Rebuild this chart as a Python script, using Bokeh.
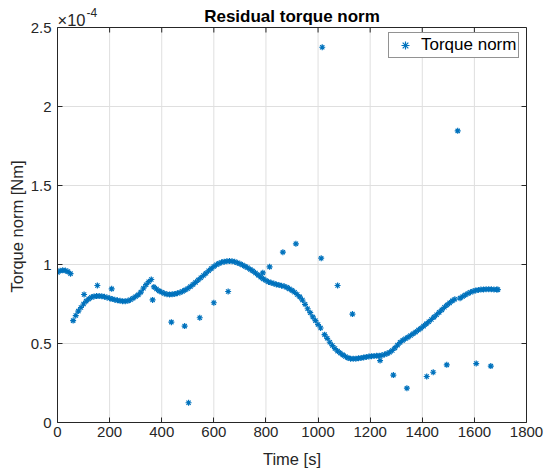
import math
from bokeh.plotting import figure
from bokeh.models import (Range1d, FixedTicker, CustomJSTickFormatter, Label, Legend, LegendItem,
                          ColumnDataSource, LinearAxis, Span, Title)
from bokeh.embed import file_html
from bokeh.resources import INLINE

# Time [s] and torque norm (units of 1e-4 Nm)
time_s = [
    0, 10, 20, 30, 40, 50,
    60, 70, 80, 90, 100, 110, 120, 130, 140, 150, 160, 170, 180, 190, 200,
    210, 220, 230, 240, 250, 260, 270, 280, 290, 300, 310, 320, 330, 340, 350, 360,
    370, 380, 390, 400, 410, 420, 430, 440, 450, 460, 470, 480, 490, 500,
    510, 520, 530, 540, 550, 560, 570, 580, 590, 600, 610, 620, 630, 640, 650,
    660, 670, 680, 690, 700, 710, 720, 730, 740, 750, 760, 770, 780, 790, 800,
    810, 820, 830, 840, 850, 860, 870, 880, 890, 900, 910, 920, 930, 940, 950,
    960, 970, 980, 990, 1000, 1010,
    1025, 1035, 1045, 1055, 1065, 1075, 1085, 1095, 1105, 1115, 1125, 1135, 1145,
    1155, 1165, 1175, 1185, 1195, 1205, 1215, 1225, 1235, 1245, 1255, 1265, 1275,
    1285, 1295, 1305, 1315, 1325, 1335, 1345, 1355, 1365, 1375, 1385, 1395, 1405,
    1415, 1425, 1435, 1445, 1455, 1465, 1475, 1485, 1495, 1505, 1515, 1525,
    1545, 1555, 1565, 1575, 1585, 1595, 1605, 1615, 1625, 1635, 1645, 1655, 1665,
    1675, 1685, 1690,
]
torque_e4 = [
    0.950, 0.960, 0.963, 0.962, 0.955, 0.942,
    0.645, 0.677, 0.705, 0.728, 0.750, 0.768, 0.782, 0.792, 0.798, 0.800, 0.800, 0.799, 0.796, 0.791, 0.786,
    0.781, 0.777, 0.773, 0.770, 0.768, 0.767, 0.770, 0.777, 0.786, 0.797, 0.808, 0.825, 0.850, 0.872, 0.891, 0.905,
    0.858, 0.845, 0.833, 0.824, 0.817, 0.812, 0.810, 0.811, 0.814, 0.818, 0.823, 0.830, 0.839, 0.848,
    0.860, 0.873, 0.887, 0.902, 0.916, 0.930, 0.945, 0.960, 0.974, 0.987, 0.998, 1.007, 1.014, 1.018, 1.021,
    1.022, 1.021, 1.017, 1.011, 1.005, 0.997, 0.988, 0.979, 0.969, 0.959, 0.946, 0.933, 0.920, 0.909, 0.899,
    0.890, 0.884, 0.879, 0.874, 0.870, 0.866, 0.862, 0.855, 0.846, 0.836, 0.824, 0.810, 0.795, 0.775, 0.748,
    0.720, 0.695, 0.668, 0.645, 0.620, 0.598,
    0.556, 0.533, 0.508, 0.487, 0.468, 0.452, 0.440, 0.428, 0.418, 0.409, 0.404, 0.403, 0.404,
    0.406, 0.408, 0.412, 0.415, 0.418, 0.420, 0.421, 0.422, 0.423, 0.426, 0.430, 0.436, 0.445,
    0.456, 0.472, 0.490, 0.507, 0.520, 0.530, 0.540, 0.551, 0.562, 0.573, 0.585, 0.597, 0.610,
    0.624, 0.638, 0.652, 0.667, 0.682, 0.697, 0.713, 0.729, 0.744, 0.757, 0.770, 0.780,
    0.787, 0.797, 0.807, 0.816, 0.824, 0.831, 0.836, 0.839, 0.841, 0.842, 0.843, 0.843, 0.843,
    0.842, 0.841, 0.841,
]
# isolated samples
spike_time_s = [102, 153, 208, 365, 437, 488, 503, 546, 600, 655, 788, 814, 865, 915,
                1012, 1016, 1075, 1132, 1238, 1289, 1341, 1417, 1442, 1494, 1536, 1607, 1663]
spike_torque_e4 = [0.81, 0.867, 0.846, 0.776, 0.635, 0.61, 0.125, 0.663, 0.758, 0.829, 0.947, 0.985, 1.078, 1.131,
                   1.04, 2.375, 0.867, 0.686, 0.392, 0.30, 0.217, 0.291, 0.318, 0.365, 1.846, 0.373, 0.357]

x_ticks = [0, 200, 400, 600, 800, 1000, 1200, 1400, 1600, 1800]
y_ticks = [0, 0.5, 1, 1.5, 2, 2.5]
X_MIN, X_MAX = 0, 1800
Y_MIN, Y_MAX = 0, 2.5

FONT = "Liberation Sans"
AX = "#262626"
BLUE = "#0072BD"
GRID = "#dfdfdf"

# layout (pixels): the plotting frame is extended above the axes box so that the
# title / exponent texts can be drawn inside it
W, H = 545, 475
BORDER_L, BORDER_R = 57, 19
BOX_TOP, BOX_BOTTOM = 27, 422
PX_PER_UNIT = (BOX_BOTTOM - BOX_TOP) / (Y_MAX - Y_MIN)
Y_TOP = Y_MAX + BOX_TOP / PX_PER_UNIT


def above_box(px):
    return Y_MAX + px / PX_PER_UNIT


p = figure(width=W, height=H, output_backend="svg", toolbar_location=None, title_location=None,
           x_range=Range1d(X_MIN, X_MAX), y_range=Range1d(Y_MIN, Y_TOP),
           min_border_left=BORDER_L, min_border_right=BORDER_R, min_border_top=0,
           min_border_bottom=H - BOX_BOTTOM)
p.background_fill_color = "white"
p.border_fill_color = "white"
p.outline_line_color = None

for ax in (p.xaxis[0], p.yaxis[0]):
    ax.axis_line_color = AX
    ax.major_tick_line_color = AX
    ax.major_tick_in = 5
    ax.major_tick_out = 0
    ax.minor_tick_line_color = None
    ax.major_label_text_font = FONT
    ax.major_label_text_font_size = "15px"
    ax.major_label_text_color = AX
    ax.axis_label_text_font = FONT
    ax.axis_label_text_font_size = "16.5px"
    ax.axis_label_text_font_style = "normal"
    ax.axis_label_text_color = AX

p.xaxis[0].ticker = FixedTicker(ticks=x_ticks)
p.yaxis[0].ticker = FixedTicker(ticks=y_ticks)
p.yaxis[0].bounds = (Y_MIN, Y_MAX)
p.yaxis[0].formatter = CustomJSTickFormatter(code="return tick.toString();")
p.xaxis[0].axis_label = "Time [s]"
p.xaxis[0].major_label_standoff = 4
p.xaxis[0].axis_label_standoff = 10
p.yaxis[0].major_label_standoff = 6

# y label as a side title, positioned along the axes box (offset measured up from the box bottom)
ylab = Title(text="Torque norm [Nm]", align="left", offset=130, standoff=4,
             text_font=FONT, text_font_size="16.5px", text_font_style="normal", text_color=AX)
p.add_layout(ylab, "left")

# right edge of the box: an axis line with no ticks
right_ax = LinearAxis(ticker=FixedTicker(ticks=[]), bounds=(Y_MIN, Y_MAX), axis_line_color=AX,
                      major_tick_line_color=None, minor_tick_line_color=None)
p.add_layout(right_ax, "right")
# top edge of the box
p.add_layout(Span(location=Y_MAX, dimension="width", line_color=AX, line_width=1))

# grid
p.xgrid.visible = False
p.ygrid.ticker = FixedTicker(ticks=y_ticks)
p.ygrid.grid_line_color = GRID
p.segment(x0=x_ticks, y0=[Y_MIN] * len(x_ticks), x1=x_ticks, y1=[Y_MAX] * len(x_ticks),
          line_color=GRID, line_width=1, level="underlay")

# inward ticks on the top and right edges
p.ray(x=x_ticks, y=[Y_MAX] * len(x_ticks), length=5, length_units="screen", angle=-math.pi / 2,
      line_color=AX, line_width=1)
p.ray(x=[X_MAX] * len(y_ticks), y=y_ticks, length=5, length_units="screen", angle=math.pi,
      line_color=AX, line_width=1)

src = ColumnDataSource(dict(t=time_s + spike_time_s, v=torque_e4 + spike_torque_e4))
r = p.scatter("t", "v", source=src, marker="asterisk", size=6, line_width=1.2, line_color=BLUE)

legend = Legend(items=[LegendItem(label="Torque norm", renderers=[r])],
                location=(331, BOX_BOTTOM - 58))
legend.label_text_font = FONT
legend.label_text_font_size = "17px"
legend.label_text_color = "black"
legend.border_line_color = AX
legend.border_line_width = 1
legend.background_fill_alpha = 1
legend.padding = 2
legend.margin = 0
legend.spacing = 0
legend.glyph_width = 28
legend.glyph_height = 20
legend.label_height = 20
legend.label_standoff = 2
p.add_layout(legend)

# title and exponent (anchored at their vertical middles)
p.add_layout(Label(x=(X_MIN + X_MAX) / 2, y=above_box(11), text="Residual torque norm",
                   text_font=FONT, text_font_size="17px", text_font_style="bold", text_color="black",
                   text_align="center", text_baseline="middle"))
p.add_layout(Label(x=X_MIN, y=above_box(7.5), text="\u00d710", text_font=FONT,
                   text_font_size="16.5px", text_color=AX, text_baseline="middle", text_align="left"))
p.add_layout(Label(x=X_MIN, y=above_box(15), x_offset=29, text="-4", text_font=FONT,
                   text_font_size="12px", text_color=AX, text_baseline="middle", text_align="left"))

open("out.html", "w").write(file_html(p, INLINE))
